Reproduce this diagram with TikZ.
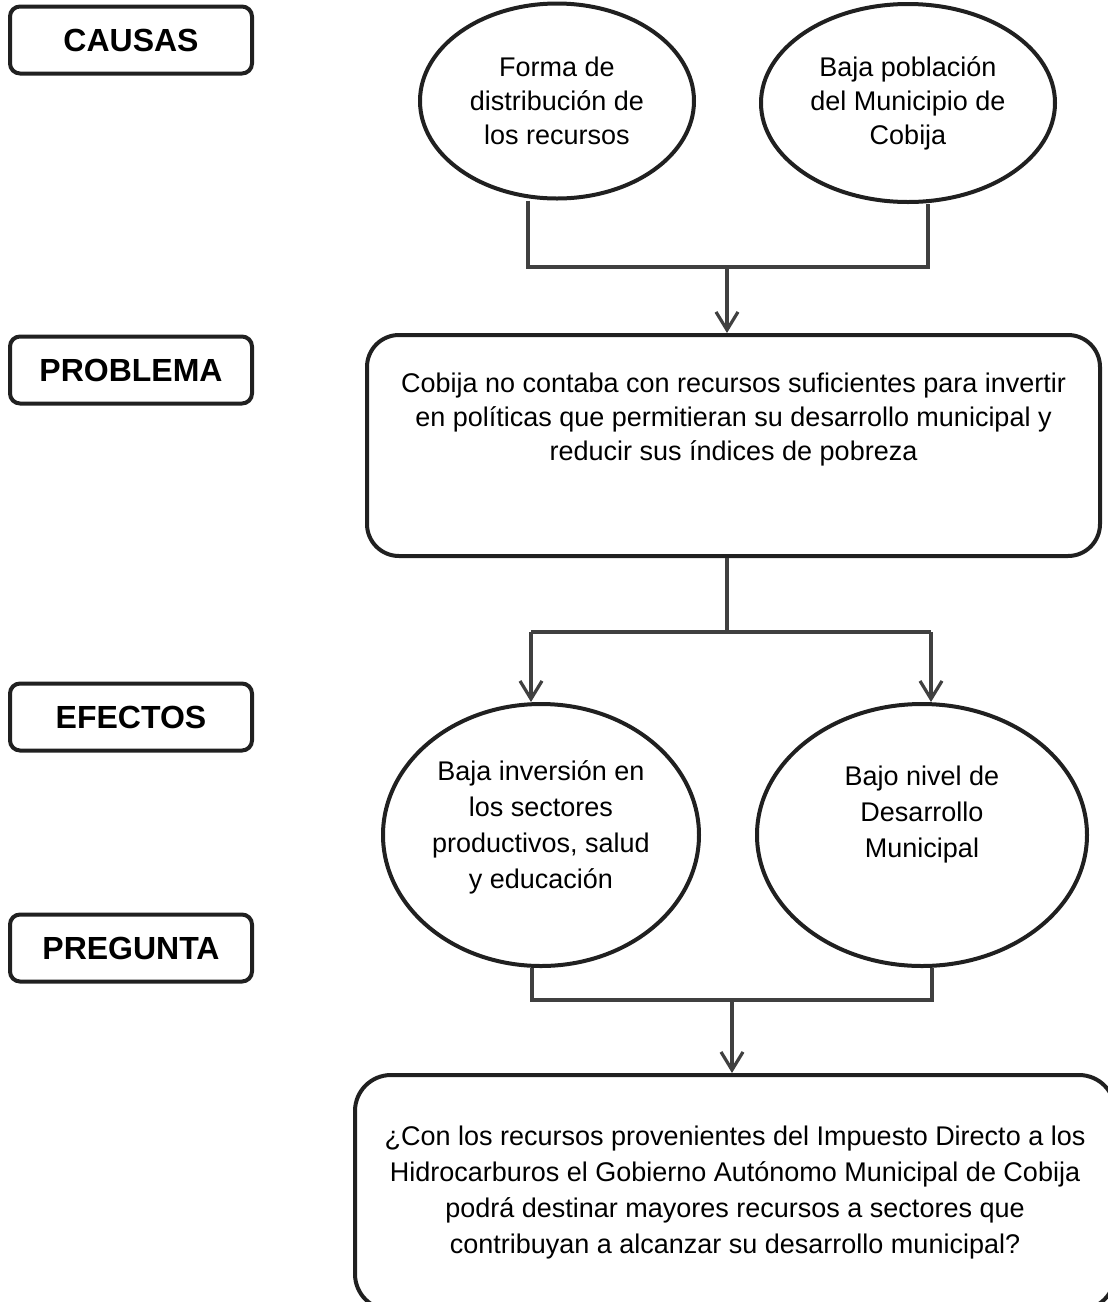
\documentclass[tikz,border=0pt]{standalone}
\usepackage{fontspec}
\setmainfont{Liberation Sans}
\usetikzlibrary{arrows.meta,positioning,shapes.geometric}

\definecolor{edge}{HTML}{202020}
\definecolor{wire}{HTML}{404040}

\begin{document}
\begin{tikzpicture}[
  x=0.5pt, y=-0.5pt,
  font=\fontsize{13.5}{17}\selectfont,
  tag/.style={draw=edge, line width=2pt, rounded corners=5pt, minimum width=121pt, minimum height=33.5pt, font=\fontsize{16}{19}\selectfont\bfseries},
  cause/.style={ellipse, draw=edge, line width=2pt, inner sep=0pt, align=center},
  panel/.style={draw=edge, line width=2pt, align=center},
  link/.style={draw=wire, line width=1.6pt},
  arr/.style={link, -{Straight Barb[length=9pt,width=11pt]}}
]
\useasboundingbox (0,0) rectangle (1108,1302);
\clip (0,0) rectangle (1108,1302);

% labels on the left
\node[tag] (causas) at (131,40) {CAUSAS};
\node[tag] (problema) at (131,370) {PROBLEMA};
\node[tag] (efectos) at (131,717) {EFECTOS};
\node[tag] (pregunta) at (131,948) {PREGUNTA};

% causes
\node[cause, minimum width=137pt, minimum height=97.5pt] (forma) at (557,101) {Forma de\\distribución de\\los recursos};
\node[cause, minimum width=147pt, minimum height=99pt] (poblacion) at (908,103) {Baja población\\del Municipio de\\Cobija};

% problem
\node[panel, rounded corners=16pt, minimum width=366.5pt, minimum height=110.5pt] (prob) at (733.5,445.5) {};
\node[align=center, yshift=13pt] (probtext) at (prob.center) {Cobija no contaba con recursos suficientes para invertir\\en políticas que permitieran su desarrollo municipal y\\reducir sus índices de pobreza};

% effects
\node[cause, minimum width=158pt, minimum height=131pt, font=\fontsize{13.5}{18}\selectfont] (inversion) at (541,835) {Baja inversión en\\los sectores\\productivos, salud\\y educación\\[-8pt]};
\node[cause, minimum width=165pt, minimum height=131pt] (nivel) at (922,835) {};
\node[align=center, yshift=10pt, font=\fontsize{13.5}{18}\selectfont] (niveltext) at (nivel.center) {Bajo nivel de\\Desarrollo\\Municipal};

% question
\node[panel, rounded corners=18pt, minimum width=380pt, minimum height=117.5pt, font=\fontsize{13.5}{18}\selectfont] (preg) at (735,1192.5) {¿Con los recursos provenientes del Impuesto Directo a los\\Hidrocarburos el Gobierno Autónomo Municipal de Cobija\\podrá destinar mayores recursos a sectores que\\contribuyan a alcanzar su desarrollo municipal?};

% causes -> problem
\coordinate (cA) at (528,267);
\coordinate (cB) at (928,267);
\coordinate (cM) at (727,267);
\draw[link] (forma.south -| cA) -- (cA) -- (cB) -- (poblacion.south -| cB);
\draw[arr] (cM) -- (prob.north -| cM);

% problem -> effects
\coordinate (eA) at (531,632);
\coordinate (eB) at (931,632);
\coordinate (eM) at (727,632);
\draw[link] (prob.south -| eM) -- (eM);
\draw[link] (eA) -- (eB);
\draw[arr] (eA) -- (inversion.north -| eA);
\draw[arr] (eB) -- (nivel.north -| eB);

% effects -> question
\coordinate (fA) at (532,1000);
\coordinate (fB) at (932,1000);
\coordinate (fM) at (732,1000);
\draw[link] (inversion.south -| fA) -- (fA) -- (fB) -- (nivel.south -| fB);
\draw[arr] (fM) -- (preg.north -| fM);
\end{tikzpicture}
\end{document}
